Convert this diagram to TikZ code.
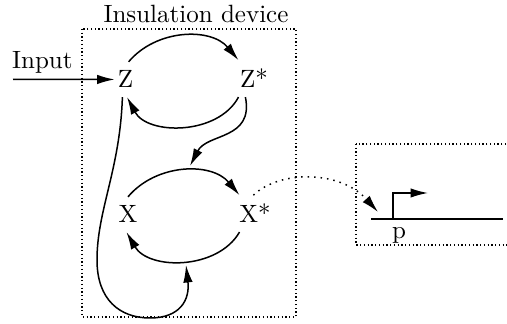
\documentclass[tikz,border=0pt]{standalone}
\usetikzlibrary{arrows.meta}
\begin{document}
\begin{tikzpicture}[x=0.4pt,y=-0.4pt,line width=0.6pt,
  arr/.style={-{Latex[length=7pt,width=3.8pt]}},
  lbl/.style={anchor=base,inner ysep=3.33pt,inner xsep=1pt},
  boxline/.style={densely dotted,line width=0.5pt},
  dotarc/.style={dotted,line width=0.6pt}]
\useasboundingbox (0,0) rectangle (507,324);
% containers
\draw[boxline] (82,29) rectangle (296,317);
\draw[boxline] (356,144) rectangle (512,245);
% labels
\node[anchor=base] (title) at (196,23) {Insulation device};
\node[anchor=base] (input) at (42.3,69) {Input};
% states
\node[lbl] (Z) at (125.5,88) {Z};
\node[lbl] (Zs) at (254,88) {Z*};
\node[lbl] (X) at (128,223) {X};
\node[lbl] (Xs) at (255,223) {X*};
% free ends
\coordinate (inStart) at (13,79.5);
\coordinate (xtop) at (190,166);
\coordinate (xbot) at (186,265);
\coordinate (ptip) at (378,212);
\coordinate (pl) at (371,219);
\coordinate (pr) at (503,219);
\coordinate (pb) at (393,219);
\coordinate (pt) at (428,193);
% connectors
\draw[arr] (inStart) -- (Z.west);
\draw[arr] (Z.80) to[out=50,in=130] (Zs.130);
\draw[arr] (Zs.-130) to[out=-118,in=-62] (Z.-85);
\draw[arr] (Zs.-115) .. controls (254,140) and (207,133) .. (xtop);
\draw[arr] (X.north) to[out=50,in=130] (Xs.130);
\draw[arr] (Xs.-130) to[out=-120,in=-60] (X.-95);
\draw[arr] (Z.-100) .. controls (120,170) and (97,210) .. (97,260)
  .. controls (97,300) and (120,318) .. (150,318)
  .. controls (180,318) and (190,300) .. (xbot);
\draw[dotarc,arr] (Xs.95) .. controls (280,170) and (340,170) .. (ptip);
% promoter
\draw (pl) -- (pr);
\draw[arr] (pb) |- (pt);
\node[anchor=base] (p) at (399,239) {p};
\end{tikzpicture}
\end{document}
